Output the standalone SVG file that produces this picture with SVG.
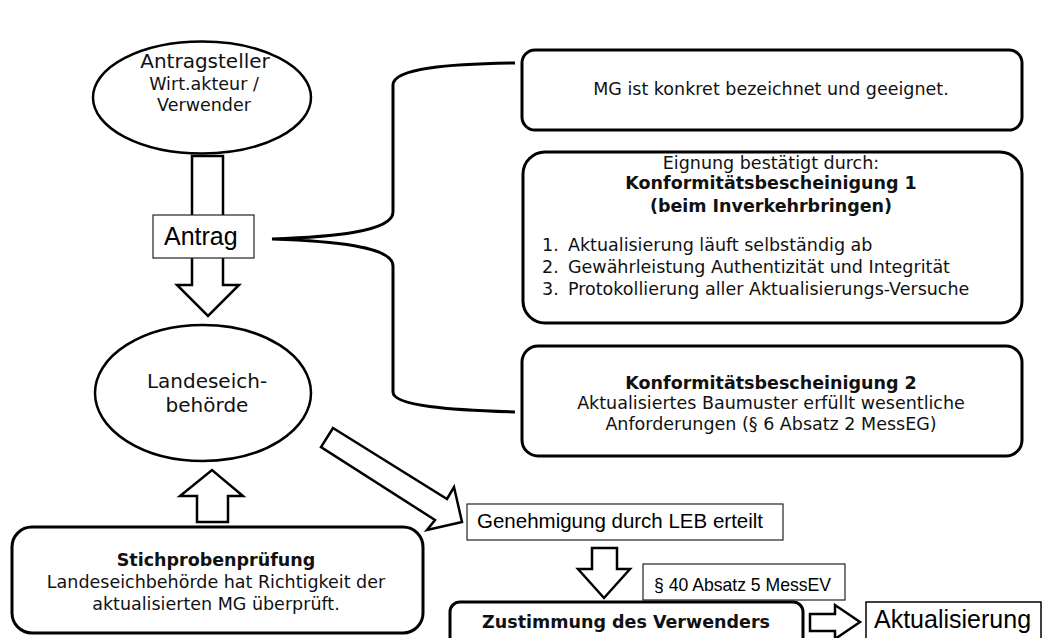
<svg xmlns="http://www.w3.org/2000/svg" width="1045" height="638" viewBox="0 0 1045 638">
<style>
.t{font-family:"DejaVu Sans","Verdana",sans-serif;fill:#111;}
.s{font-size:17.5px;}
.b{font-weight:bold;}
.a{font-family:"Liberation Sans",Arial,sans-serif;fill:#000;}
.c{text-anchor:middle;}
.rb{fill:#fff;stroke:#000;stroke-width:3;}
.el{fill:#fff;stroke:#000;stroke-width:2.5;}
.ar{fill:#fff;stroke:#000;stroke-width:2.5;stroke-linejoin:miter;}
.thin{fill:#fff;stroke:#222;stroke-width:1.2;}
</style>
<rect width="1045" height="638" fill="#fff"/>
<g id="connectors">
<polygon class="ar" points="192,156 223,156 223,285 239,285 208,316 177,285 192,285"/>
<polygon class="ar" points="197,522 228,522 228,496 243,496 212,470 180,496 197,496"/>
<polygon class="ar" points="333,428 447,499 454,487 462,522 427,530 435,520 321,447"/>
<polygon class="ar" points="592,548 617,548 617,569 630,569 604,598 578,569 592,569"/>
<polygon class="ar" points="810,614 835,614 835,605 860,622 835,639 835,631 810,631"/>
<path d="M515,63 C450,64 393,68 393,85 L393,212 C393,232 330,237 272,239 C330,241 393,246 393,266 L393,392 C393,406 450,410 515,412" fill="none" stroke="#000" stroke-width="3"/>
</g>
<g id="antragsteller">
<ellipse class="el" cx="202" cy="97.5" rx="109" ry="56"/>
<text class="t c" x="205" y="68" font-size="20">Antragsteller</text>
<text class="t c s" x="204" y="90">Wirt.akteur /</text>
<text class="t c s" x="204" y="111">Verwender</text>
</g>
<g id="antrag">
<rect class="thin" x="153" y="215" width="101" height="43"/>
<text class="a" x="164" y="245" font-size="25">Antrag</text>
</g>
<g id="mg">
<rect class="rb" x="522" y="50" width="500" height="80" rx="13"/>
<text class="t c s" x="771" y="95">MG ist konkret bezeichnet und geeignet.</text>
</g>
<g id="kb1">
<rect class="rb" x="523" y="152" width="499" height="171" rx="22"/>
<text class="t c s" x="771" y="169">Eignung bestätigt durch:</text>
<text class="t c s b" x="771" y="189">Konformitätsbescheinigung 1</text>
<text class="t c s b" x="771" y="212">(beim Inverkehrbringen)</text>
<text class="t s" x="542" y="251">1.</text>
<text class="t s" x="568" y="251">Aktualisierung läuft selbständig ab</text>
<text class="t s" x="542" y="273">2.</text>
<text class="t s" x="568" y="273">Gewährleistung Authentizität und Integrität</text>
<text class="t s" x="542" y="295">3.</text>
<text class="t s" x="568" y="295">Protokollierung aller Aktualisierungs-Versuche</text>
</g>
<g id="kb2">
<rect class="rb" x="522" y="346" width="500" height="110" rx="16"/>
<text class="t c s" x="771" y="389" font-weight="bold">Konformitätsbescheinigung 2</text>
<text class="t c s" x="771" y="409">Aktualisiertes Baumuster erfüllt wesentliche</text>
<text class="t c s" x="771" y="430">Anforderungen (§ 6 Absatz 2 MessEG)</text>
</g>
<g id="landeseichbehoerde">
<ellipse class="el" cx="203" cy="393" rx="108" ry="68"/>
<text class="t c" x="207" y="388" font-size="20">Landeseich-</text>
<text class="t c" x="207" y="412" font-size="20">behörde</text>
</g>
<g id="stichprobe">
<rect class="rb" x="12" y="527" width="411" height="106" rx="20"/>
<text class="t c s b" x="216" y="566">Stichprobenprüfung</text>
<text class="t c s" x="216" y="588">Landeseichbehörde hat Richtigkeit der</text>
<text class="t c s" x="216" y="610">aktualisierten MG überprüft.</text>
</g>
<g id="genehmigung">
<rect class="thin" x="467" y="504" width="316" height="36"/>
<text class="a" x="477" y="528" font-size="20.5">Genehmigung durch LEB erteilt</text>
</g>
<g id="messev">
<rect class="thin" x="643" y="564" width="202" height="36"/>
<text class="a" x="654" y="591" font-size="19" textLength="177" lengthAdjust="spacingAndGlyphs">§ 40 Absatz 5 MessEV</text>
</g>
<g id="zustimmung">
<rect class="rb" x="450" y="602" width="353" height="50" rx="10"/>
<text class="t c s b" x="626" y="628">Zustimmung des Verwenders</text>
</g>
<g id="aktualisierung">
<rect fill="#fff" stroke="#000" stroke-width="1.5" x="866" y="602" width="175" height="50"/>
<text class="a" x="874" y="628" font-size="25">Aktualisierung</text>
</g>
</svg>
